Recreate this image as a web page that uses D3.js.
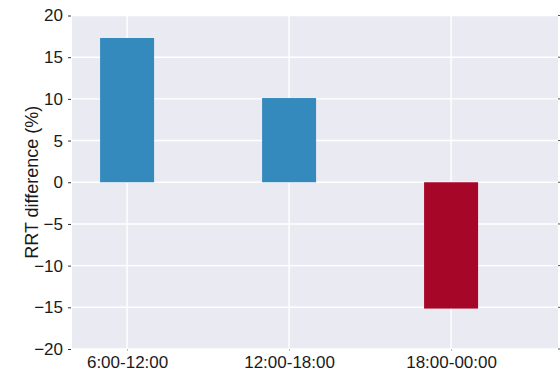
<!DOCTYPE html>
<html>
<head>
<meta charset="utf-8">
<script src="https://cdn.jsdelivr.net/npm/d3@7"></script>
<style>
  html, body { margin: 0; padding: 0; background: #ffffff; }
  svg { display: block; }
  text { font-family: "Liberation Sans", Arial, sans-serif; }
</style>
</head>
<body>
<script>
const categories = ["6:00-12:00", "12:00-18:00", "18:00-00:00"];
const values = [17.3, 10.1, -15.15];
const barColors = ["#348ABD", "#348ABD", "#A60628"];
const yTicks = [-20, -15, -10, -5, 0, 5, 10, 15, 20];

const W = 560, H = 374;
const m = { left: 72, top: 15.5, right: 2, bottom: 25 };
const pw = W - m.left - m.right, ph = H - m.top - m.bottom;

const svg = d3.select("body").append("svg").attr("width", W).attr("height", H);
const g = svg.append("g").attr("transform", `translate(${m.left},${m.top})`);

const x = d3.scaleLinear().domain([-0.34, 2.66]).range([0, pw]);
const y = d3.scaleLinear().domain([-20, 20]).range([ph, 0]);
const barW = x(1/3) - x(0);

g.append("rect").attr("width", pw).attr("height", ph).attr("fill", "#EAEAF2");

// grid
g.selectAll("line.hg").data(yTicks).enter().append("line")
  .attr("x1", 0).attr("x2", pw)
  .attr("y1", d => y(d)).attr("y2", d => y(d))
  .attr("stroke", "#ffffff").attr("stroke-width", 1.4);
g.selectAll("line.vg").data(categories).enter().append("line")
  .attr("x1", (d, i) => x(i)).attr("x2", (d, i) => x(i))
  .attr("y1", 0).attr("y2", ph)
  .attr("stroke", "#ffffff").attr("stroke-width", 1.4);

// bars
g.selectAll("rect.bar").data(values).enter().append("rect")
  .attr("x", (d, i) => x(i) - barW / 2)
  .attr("width", barW)
  .attr("y", d => y(Math.max(0, d)))
  .attr("height", d => Math.abs(y(d) - y(0)))
  .attr("fill", (d, i) => barColors[i]);

// y axis
const yAxis = d3.axisLeft(y).tickValues(yTicks).tickSize(3).tickPadding(6);
const ya = g.append("g").call(yAxis);
ya.select(".domain").remove();
ya.selectAll(".tick line").attr("stroke", "#333").attr("transform", "translate(-1,0)");
ya.selectAll(".tick text").attr("font-size", 17).attr("fill", "#1a1a1a")
  .attr("font-family", "'Liberation Sans', Arial, sans-serif");

// right ticks
g.selectAll("line.rt").data(yTicks).enter().append("line")
  .attr("x1", pw).attr("x2", pw + 2)
  .attr("y1", d => y(d)).attr("y2", d => y(d))
  .attr("stroke", "#555").attr("stroke-width", 1);

// x axis
const xAxis = d3.axisBottom(x).tickValues([0, 1, 2]).tickFormat((d) => categories[d]).tickSize(2).tickPadding(5);
const xa = g.append("g").attr("transform", `translate(0,${ph})`).call(xAxis);
xa.select(".domain").remove();
xa.selectAll(".tick line").attr("stroke", "#bbb");
xa.selectAll(".tick text").attr("font-size", 17).attr("fill", "#1a1a1a")
  .attr("font-family", "'Liberation Sans', Arial, sans-serif");

// y label
svg.append("text")
  .attr("transform", `translate(38,${m.top + ph / 2}) rotate(-90)`)
  .attr("text-anchor", "middle")
  .attr("font-size", 18)
  .attr("fill", "#1a1a1a")
  .text("RRT difference (%)");
</script>
</body>
</html>
